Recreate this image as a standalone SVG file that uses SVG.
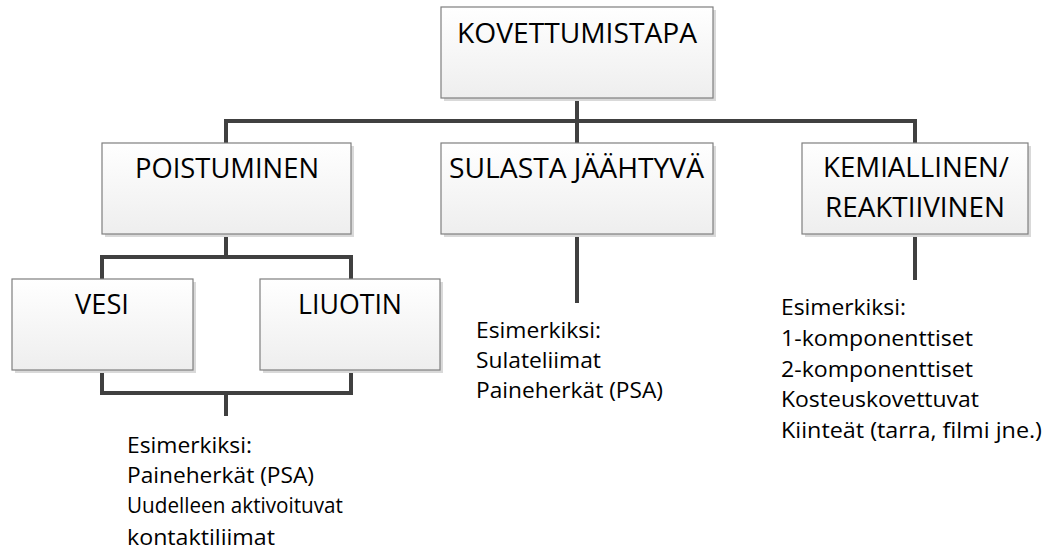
<svg xmlns="http://www.w3.org/2000/svg" width="1050" height="553" viewBox="0 0 1050 553">
  <defs>
    <linearGradient id="boxFill" x1="0" y1="0" x2="0" y2="1">
      <stop offset="0" stop-color="#ffffff"/>
      <stop offset="1" stop-color="#eeeeee"/>
    </linearGradient>
  </defs>
  <style>
    .shadow { fill: #d9d9d9; }
    .box { fill: url(#boxFill); stroke: #7f7f7f; stroke-width: 1.2; }
    .title { font-family: "Open Sans", "Noto Sans", sans-serif; font-size: 27px; fill: #000; text-anchor: middle; }
    .note { font-family: "Open Sans", "Noto Sans", sans-serif; font-size: 21.5px; fill: #000; }
    .wire { fill: none; stroke: #404040; stroke-width: 4; stroke-linejoin: miter; stroke-linecap: butt; }
  </style>

  <!-- connectors -->
  <g id="connectors">
    <path class="wire" d="M577 98 V143"/>
    <path class="wire" d="M226 143 V121 H915 V143"/>
    <path class="wire" d="M226 234 V257"/>
    <path class="wire" d="M102 279 V257 H351 V279"/>
    <path class="wire" d="M102 370 V393 H351 V370"/>
    <path class="wire" d="M226 393 V416"/>
    <path class="wire" d="M577 234 V303"/>
    <path class="wire" d="M915 234 V280"/>
  </g>

  <g id="kovettumistapa">
    <rect class="shadow" x="444" y="10" width="272" height="91"/>
    <rect class="box" x="441" y="7" width="272" height="91"/>
    <text class="title" x="577" y="43" textLength="240" lengthAdjust="spacingAndGlyphs">KOVETTUMISTAPA</text>
  </g>

  <g id="poistuminen">
    <rect class="shadow" x="105" y="146" width="249" height="91"/>
    <rect class="box" x="102" y="143" width="249" height="91"/>
    <text class="title" x="227" y="178" textLength="184" lengthAdjust="spacingAndGlyphs">POISTUMINEN</text>
  </g>

  <g id="sulasta">
    <rect class="shadow" x="444" y="146" width="272" height="91"/>
    <rect class="box" x="441" y="143" width="272" height="91"/>
    <text class="title" x="576.5" y="178" textLength="255" lengthAdjust="spacingAndGlyphs">SULASTA JÄÄHTYVÄ</text>
  </g>

  <g id="kemiallinen">
    <rect class="shadow" x="805" y="146" width="226" height="91"/>
    <rect class="box" x="802" y="143" width="226" height="91"/>
    <text class="title" x="916" y="177" textLength="186" lengthAdjust="spacingAndGlyphs">KEMIALLINEN/</text>
    <text class="title" x="915" y="217" textLength="180" lengthAdjust="spacingAndGlyphs">REAKTIIVINEN</text>
  </g>

  <g id="vesi">
    <rect class="shadow" x="15" y="282" width="181" height="91"/>
    <rect class="box" x="12" y="279" width="181" height="91"/>
    <text class="title" x="102" y="314" textLength="54" lengthAdjust="spacingAndGlyphs">VESI</text>
  </g>

  <g id="liuotin">
    <rect class="shadow" x="263" y="282" width="180" height="91"/>
    <rect class="box" x="260" y="279" width="180" height="91"/>
    <text class="title" x="350" y="314" textLength="104" lengthAdjust="spacingAndGlyphs">LIUOTIN</text>
  </g>

  <g id="examples-poistuminen">
    <text class="note" x="127" y="453" textLength="125" lengthAdjust="spacingAndGlyphs">Esimerkiksi:</text>
    <text class="note" x="127" y="483" textLength="187" lengthAdjust="spacingAndGlyphs">Paineherkät (PSA)</text>
    <text class="note" x="127" y="513" textLength="216" lengthAdjust="spacingAndGlyphs">Uudelleen aktivoituvat</text>
    <text class="note" x="127" y="545" textLength="148" lengthAdjust="spacingAndGlyphs">kontaktiliimat</text>
  </g>

  <g id="examples-sulasta">
    <text class="note" x="476" y="338" textLength="125" lengthAdjust="spacingAndGlyphs">Esimerkiksi:</text>
    <text class="note" x="476" y="368" textLength="125" lengthAdjust="spacingAndGlyphs">Sulateliimat</text>
    <text class="note" x="476" y="398" textLength="187" lengthAdjust="spacingAndGlyphs">Paineherkät (PSA)</text>
  </g>

  <g id="examples-kemiallinen">
    <text class="note" x="781" y="315" textLength="125" lengthAdjust="spacingAndGlyphs">Esimerkiksi:</text>
    <text class="note" x="781" y="346" textLength="192" lengthAdjust="spacingAndGlyphs">1-komponenttiset</text>
    <text class="note" x="781" y="377" textLength="192" lengthAdjust="spacingAndGlyphs">2-komponenttiset</text>
    <text class="note" x="781" y="407" textLength="198" lengthAdjust="spacingAndGlyphs">Kosteuskovettuvat</text>
    <text class="note" x="781" y="438" textLength="261" lengthAdjust="spacingAndGlyphs">Kiinteät (tarra, filmi jne.)</text>
  </g>
</svg>
